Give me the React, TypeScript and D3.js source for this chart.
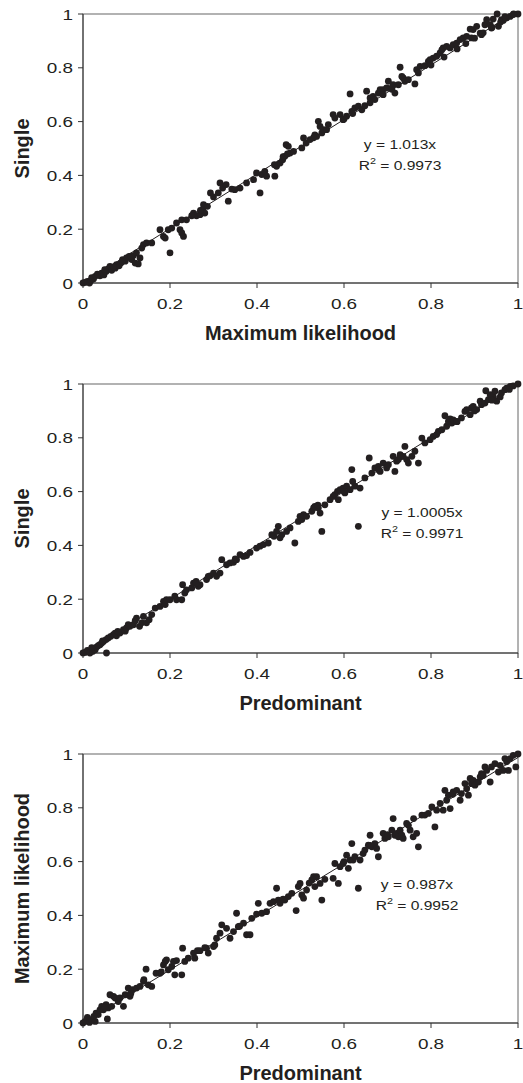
import * as d3 from "d3";

// Single vs Maximum likelihood
const singleVsMl: [number, number][] = [
  [0, 0], [0.005, 0.002], [0.01, 0.006], [0.015, 0], [0.018, 0.009], [0.024, 0.015], [0.028, 0.025],
  [0.033, 0.033], [0.039, 0.027], [0.043, 0.037], [0.048, 0.03], [0.053, 0.043], [0.058, 0.052],
  [0.062, 0.062], [0.066, 0.047], [0.074, 0.055], [0.077, 0.068], [0.083, 0.064], [0.087, 0.074],
  [0.091, 0.087], [0.097, 0.081], [0.1, 0.093], [0.106, 0.099], [0.112, 0.087], [0.116, 0.102],
  [0.12, 0.074], [0.123, 0.112], [0.127, 0.071], [0.131, 0.093], [0.135, 0.13], [0.139, 0.143],
  [0.146, 0.149], [0.158, 0.149], [0.177, 0.198], [0.185, 0.173], [0.189, 0.167], [0.196, 0.198],
  [0.2, 0.112], [0.204, 0.204], [0.215, 0.223], [0.223, 0.198], [0.227, 0.186], [0.227, 0.235],
  [0.231, 0.173], [0.238, 0.235], [0.254, 0.26], [0.261, 0.25], [0.269, 0.254], [0.275, 0.273],
  [0.28, 0.26], [0.277, 0.291], [0.286, 0.285], [0.293, 0.335], [0.3, 0.32], [0.311, 0.335],
  [0.315, 0.372], [0.321, 0.353], [0.329, 0.366], [0.334, 0.304], [0.342, 0.349], [0.349, 0.347],
  [0.361, 0.353], [0.376, 0.372], [0.392, 0.384], [0.399, 0.409], [0.407, 0.335], [0.411, 0.403],
  [0.418, 0.415], [0.422, 0.397], [0.441, 0.397], [0.445, 0.434], [0.453, 0.446], [0.459, 0.458],
  [0.464, 0.471], [0.467, 0.514], [0.472, 0.508], [0.476, 0.483], [0.484, 0.489], [0.503, 0.502],
  [0.507, 0.539], [0.513, 0.52], [0.522, 0.533], [0.533, 0.551], [0.537, 0.545], [0.541, 0.601],
  [0.545, 0.582], [0.549, 0.558], [0.552, 0.57], [0.564, 0.589], [0.575, 0.626], [0.579, 0.613],
  [0.591, 0.626], [0.598, 0.607], [0.606, 0.62], [0.614, 0.703], [0.618, 0.638], [0.625, 0.651],
  [0.633, 0.657], [0.641, 0.644], [0.648, 0.659], [0.652, 0.713], [0.66, 0.688], [0.667, 0.694],
  [0.671, 0.682], [0.679, 0.706], [0.683, 0.719], [0.69, 0.719], [0.698, 0.725], [0.702, 0.75],
  [0.71, 0.725], [0.713, 0.737], [0.717, 0.706], [0.725, 0.737], [0.729, 0.802], [0.733, 0.768],
  [0.736, 0.762], [0.74, 0.75], [0.748, 0.756], [0.763, 0.74], [0.767, 0.793], [0.771, 0.781],
  [0.775, 0.805], [0.786, 0.808], [0.794, 0.824], [0.798, 0.83], [0.805, 0.836], [0.813, 0.843],
  [0.821, 0.855], [0.825, 0.867], [0.828, 0.874], [0.836, 0.88], [0.844, 0.874], [0.851, 0.886],
  [0.859, 0.892], [0.867, 0.905], [0.874, 0.911], [0.882, 0.917], [0.89, 0.944], [0.893, 0.911],
  [0.897, 0.942], [0.905, 0.954], [0.913, 0.929], [0.916, 0.923], [0.924, 0.96], [0.928, 0.979],
  [0.936, 0.96], [0.939, 0.948], [0.943, 0.981], [0.952, 1.0], [0.955, 0.954], [0.962, 0.979],
  [0.966, 0.976], [0.974, 0.985], [0.982, 0.991], [0.989, 0.998], [1, 1],
  [0.02, 0.02], [0.05, 0.05], [0.07, 0.06], [0.09, 0.08], [0.11, 0.1], [0.25, 0.25], [0.27, 0.27],
  [0.44, 0.44], [0.46, 0.47], [0.47, 0.48], [0.53, 0.54], [0.56, 0.57], [0.6, 0.61], [0.62, 0.63],
  [0.66, 0.67], [0.69, 0.7], [0.71, 0.72], [0.8, 0.81], [0.83, 0.84], [0.86, 0.87], [0.88, 0.89],
  [0.9, 0.91], [0.92, 0.93], [0.94, 0.95], [0.96, 0.97], [0.97, 0.99], [0.99, 1.0],
];

// Single vs Predominant
const singleVsPred: [number, number][] = [
  [0, 0], [0.005, 0.002], [0.01, 0.01], [0.016, 0], [0.022, 0.006], [0.028, 0.012], [0.031, 0.022],
  [0.035, 0.027], [0.039, 0.031], [0.043, 0.037], [0.047, 0.043], [0.053, 0.05], [0.058, 0.056],
  [0.054, 0], [0.064, 0.062], [0.07, 0.068], [0.074, 0.074], [0.077, 0.064], [0.085, 0.074],
  [0.093, 0.087], [0.097, 0.081], [0.1, 0.093], [0.104, 0.105], [0.108, 0.099], [0.116, 0.105],
  [0.123, 0.13], [0.13, 0.099], [0.135, 0.112], [0.139, 0.136], [0.146, 0.112], [0.152, 0.124],
  [0.158, 0.143], [0.166, 0.167], [0.177, 0.173], [0.185, 0.192], [0.189, 0.18], [0.192, 0.198],
  [0.2, 0.198], [0.211, 0.211], [0.215, 0.198], [0.227, 0.198], [0.229, 0.254], [0.234, 0.223],
  [0.238, 0.235], [0.25, 0.242], [0.254, 0.26], [0.26, 0.266], [0.265, 0.248], [0.269, 0.254],
  [0.284, 0.273], [0.288, 0.285], [0.292, 0.287], [0.3, 0.297], [0.307, 0.285], [0.315, 0.297],
  [0.319, 0.347], [0.33, 0.328], [0.338, 0.335], [0.346, 0.337], [0.353, 0.347], [0.361, 0.366],
  [0.369, 0.359], [0.376, 0.362], [0.384, 0.374], [0.399, 0.39], [0.407, 0.397], [0.415, 0.403],
  [0.426, 0.409], [0.434, 0.44], [0.439, 0.434], [0.445, 0.452], [0.449, 0.471], [0.453, 0.428],
  [0.457, 0.44], [0.468, 0.452], [0.476, 0.465], [0.487, 0.409], [0.495, 0.489], [0.499, 0.508],
  [0.503, 0.496], [0.507, 0.514], [0.514, 0.508], [0.526, 0.527], [0.53, 0.539], [0.533, 0.545],
  [0.541, 0.539], [0.545, 0.52], [0.549, 0.452], [0.556, 0.551], [0.568, 0.57], [0.575, 0.582],
  [0.579, 0.589], [0.585, 0.601], [0.587, 0.57], [0.591, 0.607], [0.598, 0.613], [0.602, 0.595],
  [0.606, 0.62], [0.614, 0.607], [0.618, 0.682], [0.62, 0.638], [0.625, 0.62], [0.633, 0.471],
  [0.637, 0.613], [0.648, 0.651], [0.658, 0.725], [0.664, 0.669], [0.671, 0.688], [0.679, 0.694],
  [0.683, 0.675], [0.69, 0.706], [0.698, 0.688], [0.702, 0.7], [0.713, 0.731], [0.717, 0.675],
  [0.721, 0.713], [0.725, 0.719], [0.729, 0.737], [0.736, 0.731], [0.74, 0.768], [0.744, 0.719],
  [0.748, 0.706], [0.756, 0.731], [0.763, 0.75], [0.771, 0.706], [0.779, 0.799], [0.786, 0.781],
  [0.798, 0.793], [0.805, 0.805], [0.813, 0.812], [0.817, 0.824], [0.825, 0.83], [0.832, 0.882],
  [0.836, 0.843], [0.84, 0.861], [0.844, 0.87], [0.848, 0.855], [0.851, 0.867], [0.859, 0.861],
  [0.87, 0.874], [0.878, 0.898], [0.882, 0.905], [0.89, 0.886], [0.893, 0.911], [0.897, 0.917],
  [0.905, 0.905], [0.913, 0.936], [0.916, 0.923], [0.924, 0.929], [0.926, 0.975], [0.932, 0.942],
  [0.936, 0.96], [0.943, 0.954], [0.947, 0.973], [0.951, 0.936], [0.959, 0.952], [0.962, 0.967],
  [0.97, 0.979], [0.974, 0.985], [0.982, 0.991], [0.989, 0.993], [1, 1],
  [0.02, 0.02], [0.045, 0.045], [0.08, 0.08], [0.12, 0.12], [0.26, 0.26], [0.35, 0.35], [0.54, 0.55],
  [0.6, 0.6], [0.68, 0.68], [0.73, 0.73], [0.86, 0.86], [0.9, 0.9], [0.94, 0.94], [0.98, 0.98],
];

// Maximum likelihood vs Predominant
const mlVsPred: [number, number][] = [
  [0, 0], [0.005, 0.006], [0.01, 0.021], [0.015, 0.002], [0.02, 0.012], [0.028, 0.006], [0.03, 0.037],
  [0.035, 0.031], [0.039, 0.049], [0.043, 0.062], [0.047, 0.049], [0.053, 0.068], [0.056, 0.015],
  [0.058, 0.056], [0.062, 0.105], [0.066, 0.062], [0.07, 0.099], [0.074, 0.093], [0.081, 0.08],
  [0.085, 0.093], [0.093, 0.062], [0.097, 0.105], [0.104, 0.13], [0.108, 0.099], [0.114, 0.124],
  [0.123, 0.13], [0.131, 0.136], [0.139, 0.155], [0.14, 0.161], [0.145, 0.2], [0.15, 0.142],
  [0.158, 0.136], [0.168, 0.185], [0.177, 0.185], [0.185, 0.216], [0.189, 0.229], [0.192, 0.235],
  [0.196, 0.198], [0.204, 0.21], [0.208, 0.229], [0.211, 0.179], [0.215, 0.232], [0.227, 0.179],
  [0.229, 0.278], [0.234, 0.229], [0.242, 0.241], [0.254, 0.26], [0.257, 0.241], [0.263, 0.269],
  [0.269, 0.269], [0.284, 0.278], [0.288, 0.26], [0.3, 0.284], [0.303, 0.29], [0.307, 0.315],
  [0.315, 0.334], [0.319, 0.365], [0.33, 0.352], [0.338, 0.315], [0.346, 0.34], [0.353, 0.408],
  [0.357, 0.358], [0.369, 0.371], [0.376, 0.328], [0.384, 0.328], [0.388, 0.389], [0.399, 0.405],
  [0.403, 0.445], [0.411, 0.408], [0.422, 0.414], [0.43, 0.445], [0.438, 0.451], [0.445, 0.501],
  [0.449, 0.457], [0.453, 0.445], [0.464, 0.457], [0.472, 0.47], [0.48, 0.482], [0.49, 0.418],
  [0.495, 0.507], [0.499, 0.519], [0.503, 0.476], [0.507, 0.464], [0.514, 0.494], [0.526, 0.532],
  [0.53, 0.544], [0.533, 0.507], [0.537, 0.544], [0.545, 0.519], [0.549, 0.457], [0.556, 0.534],
  [0.575, 0.538], [0.579, 0.593], [0.587, 0.519], [0.591, 0.581], [0.598, 0.593], [0.606, 0.624],
  [0.61, 0.575], [0.614, 0.606], [0.618, 0.667], [0.621, 0.606], [0.625, 0.618], [0.633, 0.501],
  [0.637, 0.606], [0.644, 0.63], [0.648, 0.643], [0.656, 0.661], [0.66, 0.698], [0.664, 0.655],
  [0.671, 0.667], [0.675, 0.649], [0.679, 0.618], [0.69, 0.705], [0.694, 0.686], [0.702, 0.692],
  [0.71, 0.717], [0.713, 0.76], [0.717, 0.698], [0.721, 0.705], [0.725, 0.692], [0.729, 0.717],
  [0.733, 0.698], [0.736, 0.686], [0.744, 0.742], [0.748, 0.735], [0.752, 0.717], [0.759, 0.692],
  [0.767, 0.705], [0.771, 0.655], [0.779, 0.773], [0.786, 0.773], [0.794, 0.779], [0.802, 0.803],
  [0.809, 0.729], [0.813, 0.791], [0.821, 0.816], [0.828, 0.791], [0.832, 0.865], [0.836, 0.828],
  [0.84, 0.847], [0.844, 0.797], [0.851, 0.859], [0.859, 0.865], [0.867, 0.828], [0.87, 0.853],
  [0.878, 0.89], [0.882, 0.871], [0.886, 0.847], [0.89, 0.909], [0.893, 0.89], [0.897, 0.902],
  [0.901, 0.884], [0.909, 0.896], [0.913, 0.915], [0.916, 0.927], [0.924, 0.952], [0.928, 0.939],
  [0.936, 0.896], [0.939, 0.952], [0.947, 0.964], [0.955, 0.933], [0.959, 0.958], [0.966, 0.939],
  [0.97, 0.983], [0.974, 0.971], [0.978, 0.939], [0.982, 0.983], [0.989, 0.995], [0.995, 0.952],
  [1, 1],
  [0.025, 0.025], [0.05, 0.06], [0.11, 0.11], [0.18, 0.19], [0.28, 0.28], [0.36, 0.36], [0.46, 0.46],
  [0.52, 0.52], [0.6, 0.6], [0.66, 0.66], [0.7, 0.7], [0.76, 0.76], [0.85, 0.85], [0.92, 0.92],
];

const xTicks = [0, 0.2, 0.4, 0.6, 0.8, 1];
const yTicks = [0, 0.2, 0.4, 0.6, 0.8, 1];

const panels = [
  { data: singleVsMl, xTitle: "Maximum likelihood", yTitle: "Single", eq: "y = 1.013x", r2: "0.9973", slope: 1.013, note: [400, 0.5] },
  { data: singleVsPred, xTitle: "Predominant", yTitle: "Single", eq: "y = 1.0005x", r2: "0.9971", slope: 1.0005, note: [422, 0.505] },
  { data: mlVsPred, xTitle: "Predominant", yTitle: "Maximum likelihood", eq: "y = 0.987x", r2: "0.9952", slope: 0.987, note: [417, 0.5] },
];

const W = 523;
const H = 1083;
const left = 83;
const plotW = 435;
const plotH = 269;
const tops = [14, 384, 754];
const font = "'Liberation Sans', Arial, Helvetica, sans-serif";
const ink = "#231f20";

function Panel({ p, top }: { p: (typeof panels)[number]; top: number }) {
  const x = d3.scaleLinear().domain([0, 1]).range([left, left + plotW]);
  const y = d3.scaleLinear().domain([0, 1]).range([top + plotH, top]);
  // trend line through origin, cut where it leaves the frame
  const xEnd = Math.min(1, 1 / p.slope);
  const line = d3.line<number>().x((d) => x(d)).y((d) => y(p.slope * d))([0, xEnd]) || "";
  const noteY = y(p.note[1]);
  return (
    <g>
      <rect x={left} y={top} width={plotW} height={plotH} fill="none" stroke="#666" strokeWidth={1} />
      <line x1={left} x2={left} y1={top} y2={top + plotH} stroke="#333" />
      <line x1={left} x2={left + plotW} y1={top + plotH} y2={top + plotH} stroke="#333" />
      {yTicks.map((t) => (
        <g key={"y" + t}>
          <line x1={left - 5} x2={left} y1={y(t)} y2={y(t)} stroke="#333" />
          <text
            transform={`translate(${left - 10},${y(t) + 5.5}) scale(1.22,1)`}
            textAnchor="end"
            fontSize={15.5}
            fontFamily={font}
            fill={ink}
          >
            {String(t)}
          </text>
        </g>
      ))}
      {xTicks.map((t) => (
        <g key={"x" + t}>
          <line x1={x(t)} x2={x(t)} y1={top + plotH} y2={top + plotH + 5} stroke="#333" />
          <text
            transform={`translate(${x(t)},${top + plotH + 26}) scale(1.22,1)`}
            textAnchor="middle"
            fontSize={15.5}
            fontFamily={font}
            fill={ink}
          >
            {String(t)}
          </text>
        </g>
      ))}
      <path d={line} fill="none" stroke={ink} strokeWidth={1} />
      {p.data.map((d, i) => (
        <circle key={i} cx={x(d[0])} cy={y(d[1])} r={3.4} fill={ink} />
      ))}
      <text
        transform={`translate(${p.note[0]},${noteY}) scale(1.2,1)`}
        textAnchor="middle"
        fontSize={13}
        fontFamily={font}
        fill={ink}
      >
        {p.eq}
      </text>
      <text
        transform={`translate(${p.note[0]},${noteY + 21}) scale(1.2,1)`}
        textAnchor="middle"
        fontSize={13}
        fontFamily={font}
        fill={ink}
      >
        R<tspan fontSize={9} dy={-6}>2</tspan>
        <tspan dy={6}> = {p.r2}</tspan>
      </text>
      <text
        x={left + plotW / 2}
        y={top + plotH + 57}
        textAnchor="middle"
        fontSize={20}
        fontWeight="bold"
        fontFamily={font}
        fill={ink}
      >
        {p.xTitle}
      </text>
      <text
        transform={`translate(29,${top + plotH / 2}) rotate(-90)`}
        textAnchor="middle"
        fontSize={20}
        fontWeight="bold"
        fontFamily={font}
        fill={ink}
      >
        {p.yTitle}
      </text>
    </g>
  );
}

export default function App() {
  return (
    <div style={{ position: "absolute", left: 0, top: 0 }}>
      <svg width={W} height={H} style={{ display: "block", background: "#fff" }}>
        {panels.map((p, i) => (
          <Panel key={i} p={p} top={tops[i]} />
        ))}
      </svg>
    </div>
  );
}
